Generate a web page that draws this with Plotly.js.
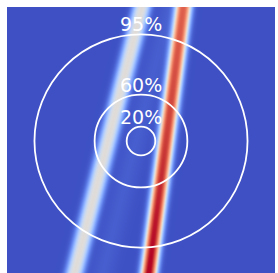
<!DOCTYPE html>
<html>
<head>
<meta charset="utf-8">
<script src="https://cdn.plot.ly/plotly-3.0.1.min.js"></script>
<style>
html,body{margin:0;padding:0;overflow:hidden;background:#fff;}
#chart{width:278px;height:275px;}
</style>
</head>
<body>
<div id="chart"></div>
<script>
// Bands (plot coordinates: x,y in [-1,1], y=1 at top)
const bandNames       = ['pale band', 'red band', 'faint band'];
const bandTopX        = [0.007, 0.317, 0.215];
const bandBottomX     = [-0.500, 0.057, -0.290];
const bandWidth       = [0.050, 0.047, 0.060];
const bandShape       = [2.6, 2.6, 2.0];
const bandPeakTop     = [0.50, 0.86, 0.03];
const bandPeakBottom  = [0.50, 1.00, 0.03];
const backgroundLevel = 0.01;

// Confidence rings
const ringLabels = ['95%', '60%', '20%'];
const ringRadii  = [0.795, 0.346, 0.107];
const labelY     = [0.873, 0.418, 0.179];

// coolwarm colour scale
const coolwarm = [
  [0.0,'rgb(59,76,192)'],[0.0625,'rgb(77,104,215)'],[0.125,'rgb(98,130,234)'],
  [0.1875,'rgb(119,154,247)'],[0.25,'rgb(141,176,254)'],[0.3125,'rgb(163,194,255)'],
  [0.375,'rgb(184,208,249)'],[0.4375,'rgb(204,217,238)'],[0.5,'rgb(221,221,221)'],
  [0.5625,'rgb(236,211,197)'],[0.625,'rgb(245,196,173)'],[0.6875,'rgb(247,177,148)'],
  [0.75,'rgb(244,154,123)'],[0.8125,'rgb(236,127,99)'],[0.875,'rgb(222,96,77)'],
  [0.9375,'rgb(203,62,56)'],[1.0,'rgb(180,4,38)']
];

// Build grid for the heatmap from the band descriptions
const N = 268;
const xs = [], ys = [], z = [];
for (let i = 0; i < N; i++) { xs.push(-1 + (i + 0.5) * 2 / N); ys.push(-1 + (i + 0.5) * 2 / N); }
for (let j = 0; j < N; j++) {
  const y = ys[j];
  const t = (1 - y) / 2; // 0 at top, 1 at bottom
  const row = [];
  for (let i = 0; i < N; i++) {
    const x = xs[i];
    let v = backgroundLevel;
    for (let k = 0; k < bandNames.length; k++) {
      const c = bandTopX[k] + (bandBottomX[k] - bandTopX[k]) * t;
      const p = bandPeakTop[k] + (bandPeakBottom[k] - bandPeakTop[k]) * t;
      const d = Math.abs(x - c) / bandWidth[k];
      v += p * Math.exp(-0.5 * Math.pow(d, bandShape[k]));
    }
    row.push(Math.min(v, 1));
  }
  z.push(row);
}

const shapes = ringRadii.map(r => ({
  type: 'circle', xref: 'x', yref: 'y', x0: -r, x1: r, y0: -r, y1: r,
  line: {color: 'white', width: 1.8}
}));
const annotations = ringLabels.map((t, k) => ({
  text: t, x: 0, y: labelY[k], xref: 'x', yref: 'y', showarrow: false,
  xanchor: 'center', yanchor: 'middle',
  font: {family: 'DejaVu Sans', size: 19, color: 'white'}
}));

Plotly.newPlot('chart', [{
  type: 'heatmap', x: xs, y: ys, z: z, colorscale: coolwarm, zmin: 0, zmax: 1,
  showscale: false, hoverinfo: 'skip', zsmooth: false
}], {
  width: 278, height: 275,
  margin: {l: 7, r: 3, t: 7, b: 0},
  paper_bgcolor: 'white', plot_bgcolor: 'white',
  xaxis: {range: [-1, 1], visible: false, fixedrange: true},
  yaxis: {range: [-1, 1], visible: false, fixedrange: true},
  shapes: shapes, annotations: annotations, showlegend: false
}, {displayModeBar: false, staticPlot: true});
</script>
</body>
</html>
